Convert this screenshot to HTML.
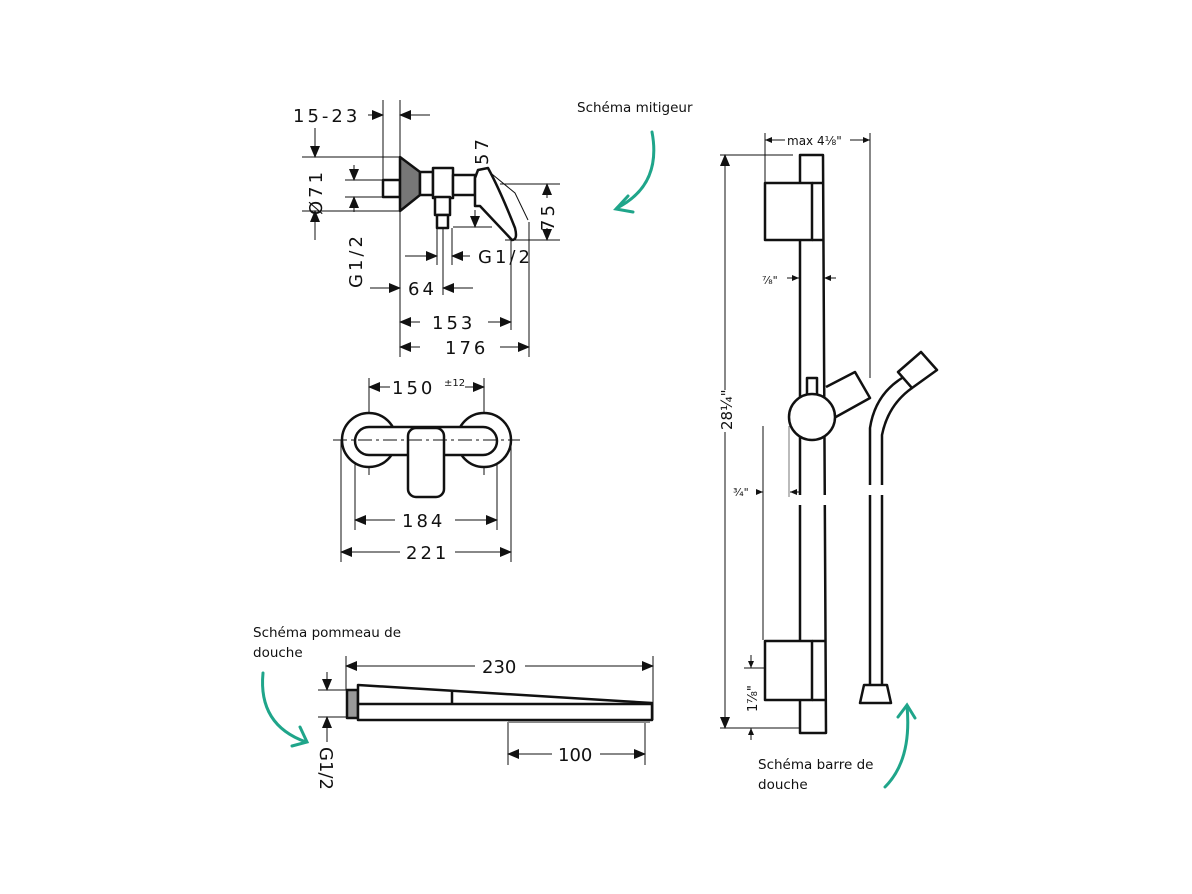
<!DOCTYPE html>
<html><head><meta charset="utf-8"><style>
html,body{margin:0;padding:0;background:#fff;}
svg{display:block;}
.d{font-family:"DejaVu Sans","Liberation Sans",sans-serif;font-size:18px;fill:#111;letter-spacing:3px;}
.n{letter-spacing:0;}
.s{font-family:"DejaVu Sans","Liberation Sans",sans-serif;font-size:13.5px;fill:#111;}
.l{stroke:#111;stroke-width:1;fill:none;}
.o{stroke:#111;stroke-width:2.5;fill:#fff;stroke-linejoin:round;}
.g{stroke:#1fa58a;stroke-width:3;fill:none;stroke-linecap:round;}
</style></head><body>
<svg width="1192" height="894" viewBox="0 0 1192 894" xmlns="http://www.w3.org/2000/svg">
<defs>
<marker id="a" markerWidth="12" markerHeight="10" refX="11" refY="5" orient="auto" markerUnits="userSpaceOnUse"><path d="M0,0 L12,5 L0,10z" fill="#111"/></marker>
<marker id="b" markerWidth="7" markerHeight="6" refX="7" refY="3" orient="auto" markerUnits="userSpaceOnUse"><path d="M0,0 L7,3 L0,6z" fill="#111"/></marker>
</defs>

<!-- ===== Mixer side view ===== -->
<g class="l">
<line x1="383" y1="100" x2="383" y2="180"/>
<line x1="400" y1="100" x2="400" y2="357"/>
<line x1="368" y1="115" x2="383" y2="115" marker-end="url(#a)"/>
<line x1="430" y1="115" x2="400" y2="115" marker-end="url(#a)"/>
<line x1="302" y1="157" x2="400" y2="157"/>
<line x1="302" y1="211" x2="400" y2="211"/>
<line x1="315" y1="128" x2="315" y2="157" marker-end="url(#a)"/>
<line x1="315" y1="240" x2="315" y2="211" marker-end="url(#a)"/>
<line x1="345" y1="180" x2="385" y2="180"/>
<line x1="345" y1="197" x2="385" y2="197"/>
<line x1="354" y1="165" x2="354" y2="180" marker-end="url(#a)"/>
<line x1="354" y1="212" x2="354" y2="197" marker-end="url(#a)"/>
<line x1="453" y1="227" x2="492" y2="227"/>
<line x1="475" y1="200" x2="475" y2="183" marker-end="url(#a)"/>
<line x1="475" y1="210" x2="475" y2="227" marker-end="url(#a)"/>
<line x1="500" y1="184" x2="560" y2="184"/>
<line x1="505" y1="240" x2="560" y2="240"/>
<line x1="547" y1="198" x2="547" y2="184" marker-end="url(#a)"/>
<line x1="547" y1="228" x2="547" y2="240" marker-end="url(#a)"/>
<line x1="437" y1="228" x2="437" y2="265"/>
<line x1="452" y1="228" x2="452" y2="265"/>
<line x1="443" y1="228" x2="443" y2="295"/>
<line x1="405" y1="256" x2="437" y2="256" marker-end="url(#a)"/>
<line x1="470" y1="256" x2="452" y2="256" marker-end="url(#a)"/>
<line x1="370" y1="288" x2="400" y2="288" marker-end="url(#a)"/>
<line x1="473" y1="288" x2="443" y2="288" marker-end="url(#a)"/>
<line x1="511" y1="240" x2="511" y2="330"/>
<line x1="529" y1="222" x2="529" y2="357"/>
<line x1="420" y1="322" x2="400" y2="322" marker-end="url(#a)"/>
<line x1="488" y1="322" x2="511" y2="322" marker-end="url(#a)"/>
<line x1="420" y1="347" x2="400" y2="347" marker-end="url(#a)"/>
<line x1="500" y1="347" x2="529" y2="347" marker-end="url(#a)"/>
<path d="M487,170 L515,193 L528,220"/>
</g>
<g class="o">
<rect x="383" y="180" width="17" height="17"/>
<path d="M400,157 L420,172 L420,195 L400,211 Z" fill="#777"/>
<rect x="420" y="172" width="13" height="23"/>
<rect x="433" y="168" width="20" height="30"/>
<rect x="453" y="175" width="22" height="20"/>
<rect x="435" y="197" width="15" height="18"/>
<rect x="437" y="215" width="11" height="13"/>
<path d="M475,178 L478,170 L488,168 Q500,190 515,228 Q518,240 512,240 Q495,222 480,206 L475,206 Z"/>
</g>
<text class="d" x="293" y="122">15-23</text>
<text class="d" transform="translate(322,215) rotate(-90)">Ø71</text>
<text class="d" transform="translate(362,288) rotate(-90)">G1/2</text>
<text class="d" transform="translate(488,165) rotate(-90)">57</text>
<text class="d" transform="translate(554,231) rotate(-90)">75</text>
<text class="d" x="478" y="263">G1/2</text>
<text class="d" x="408" y="295">64</text>
<text class="d" x="432" y="329">153</text>
<text class="d" x="445" y="354">176</text>

<!-- ===== Mixer top view ===== -->
<g class="l">
<line x1="369" y1="378" x2="369" y2="475"/>
<line x1="484" y1="378" x2="484" y2="475"/>
<line x1="355" y1="450" x2="355" y2="530"/>
<line x1="497" y1="450" x2="497" y2="530"/>
<line x1="341" y1="440" x2="341" y2="562"/>
<line x1="511" y1="440" x2="511" y2="562"/>
<line x1="390" y1="387" x2="369" y2="387" marker-end="url(#a)"/>
<line x1="465" y1="387" x2="484" y2="387" marker-end="url(#a)"/>
<line x1="395" y1="520" x2="355" y2="520" marker-end="url(#a)"/>
<line x1="455" y1="520" x2="497" y2="520" marker-end="url(#a)"/>
<line x1="400" y1="552" x2="341" y2="552" marker-end="url(#a)"/>
<line x1="455" y1="552" x2="511" y2="552" marker-end="url(#a)"/>
</g>
<g class="o">
<circle cx="369" cy="440" r="27"/>
<circle cx="484" cy="440" r="27"/>
<rect x="355" y="427" width="142" height="28" rx="14"/>
<rect x="408" y="428" width="36" height="69" rx="8"/>
</g>
<line x1="333" y1="440" x2="520" y2="440" stroke="#111" stroke-dasharray="14,4,3,4"/>
<text class="d" x="392" y="394">150</text>
<text x="444" y="386" font-family="DejaVu Sans,sans-serif" font-size="10" fill="#111">±12</text>
<text class="d" x="402" y="527">184</text>
<text class="d" x="406" y="559">221</text>

<!-- ===== Shower head ===== -->
<g class="l">
<line x1="346" y1="656" x2="346" y2="690"/>
<line x1="653" y1="656" x2="653" y2="720"/>
<line x1="475" y1="666" x2="346" y2="666" marker-end="url(#a)"/>
<line x1="525" y1="666" x2="653" y2="666" marker-end="url(#a)"/>
<line x1="318" y1="690" x2="347" y2="690"/>
<line x1="318" y1="717" x2="347" y2="717"/>
<line x1="327" y1="672" x2="327" y2="690" marker-end="url(#a)"/>
<line x1="327" y1="742" x2="327" y2="717" marker-end="url(#a)"/>
<line x1="508" y1="722" x2="508" y2="765"/>
<line x1="645" y1="722" x2="645" y2="765"/>
<line x1="552" y1="754" x2="508" y2="754" marker-end="url(#a)"/>
<line x1="600" y1="754" x2="645" y2="754" marker-end="url(#a)"/>
</g>
<g class="o">
<rect x="347" y="690" width="11" height="28" fill="#999"/>
<path d="M358,685 L652,703 L652,720 L358,720 Z"/>
<path d="M358,704 L452,704 L452,691 M452,704 L652,704" fill="none"/>
</g>
<line x1="508" y1="722" x2="650" y2="722" stroke="#888" stroke-width="2"/>
<text class="d n" x="482" y="673">230</text>
<text class="d n" x="558" y="761">100</text>
<text class="d n" transform="translate(320,747) rotate(90)">G1/2</text>

<!-- ===== Shower bar ===== -->
<g class="l">
<line x1="765" y1="133" x2="765" y2="183"/>
<line x1="870" y1="133" x2="870" y2="378"/>
<line x1="785" y1="140" x2="765" y2="140" marker-end="url(#b)"/>
<line x1="850" y1="140" x2="870" y2="140" marker-end="url(#b)"/>
<line x1="720" y1="155" x2="793" y2="155"/>
<line x1="720" y1="728" x2="800" y2="728"/>
<line x1="725" y1="390" x2="725" y2="155" marker-end="url(#a)"/>
<line x1="725" y1="432" x2="725" y2="728" marker-end="url(#a)"/>
<line x1="787" y1="278" x2="799" y2="278" marker-end="url(#b)"/>
<line x1="836" y1="278" x2="824" y2="278" marker-end="url(#b)"/>
<line x1="763" y1="426" x2="763" y2="640"/>
<line x1="789" y1="426" x2="789" y2="497" stroke="#777"/>
<line x1="756" y1="492" x2="763" y2="492" marker-end="url(#b)"/>
<line x1="801" y1="492" x2="790" y2="492" marker-end="url(#b)"/>
<line x1="744" y1="668" x2="766" y2="668"/>
<line x1="751" y1="655" x2="751" y2="668" marker-end="url(#b)"/>
<line x1="751" y1="740" x2="751" y2="728" marker-end="url(#b)"/>
</g>
<g class="o">
<path d="M800,155 L823,155 L826,733 L800,733 Z"/>
<rect x="765" y="183" width="47" height="57"/>
<rect x="765" y="641" width="47" height="59"/>
<line x1="812" y1="183" x2="823" y2="183"/>
<line x1="812" y1="240" x2="823" y2="240"/>
<line x1="812" y1="641" x2="825" y2="641"/>
<line x1="812" y1="700" x2="825" y2="700"/>
<path d="M826,387 L855,372 L870,398 L834,418"/>
<rect x="807" y="378" width="10" height="20"/>
<circle cx="812" cy="417" r="23"/>
<path d="M870,685 L870,428 Q875,395 902,378 M882,685 L882,435 Q888,405 912,388" fill="none"/>
<path d="M898,372 L921,352 L937,370 L912,388 Z"/>
<path d="M864,685 L887,685 L891,703 L860,703 Z"/>
</g>
<rect x="795" y="495" width="34" height="10" fill="#fff"/>
<rect x="865" y="485" width="22" height="10" fill="#fff"/>
<text x="762" y="284" font-family="DejaVu Sans,sans-serif" font-size="11" fill="#111">⁷⁄₈"</text>
<text x="733" y="496" font-family="DejaVu Sans,sans-serif" font-size="11" fill="#111">³⁄₄"</text>
<text x="787" y="145" font-family="DejaVu Sans,sans-serif" font-size="12" fill="#111">max 4⅛"</text>
<text transform="translate(732,430) rotate(-90)" font-family="DejaVu Sans,sans-serif" font-size="15" fill="#111">28¼"</text>
<text transform="translate(757,712) rotate(-90)" font-family="DejaVu Sans,sans-serif" font-size="13" fill="#111">1⅞"</text>

<!-- ===== Labels & green arrows ===== -->
<text class="s" x="577" y="112">Schéma mitigeur</text>
<text class="s" x="253" y="637">Schéma pommeau de</text>
<text class="s" x="253" y="657">douche</text>
<text class="s" x="758" y="769">Schéma barre de</text>
<text class="s" x="758" y="789">douche</text>
<path class="g" d="M652,132 Q662,185 617,208"/>
<path class="g" d="M628,196 L616,209 L633,212"/>
<path class="g" d="M263,673 Q258,725 306,742"/>
<path class="g" d="M300,727 L307,742 L292,746"/>
<path class="g" d="M885,787 Q912,760 907,706"/>
<path class="g" d="M898,717 L907,705 L915,718"/>
</svg>
</body></html>
